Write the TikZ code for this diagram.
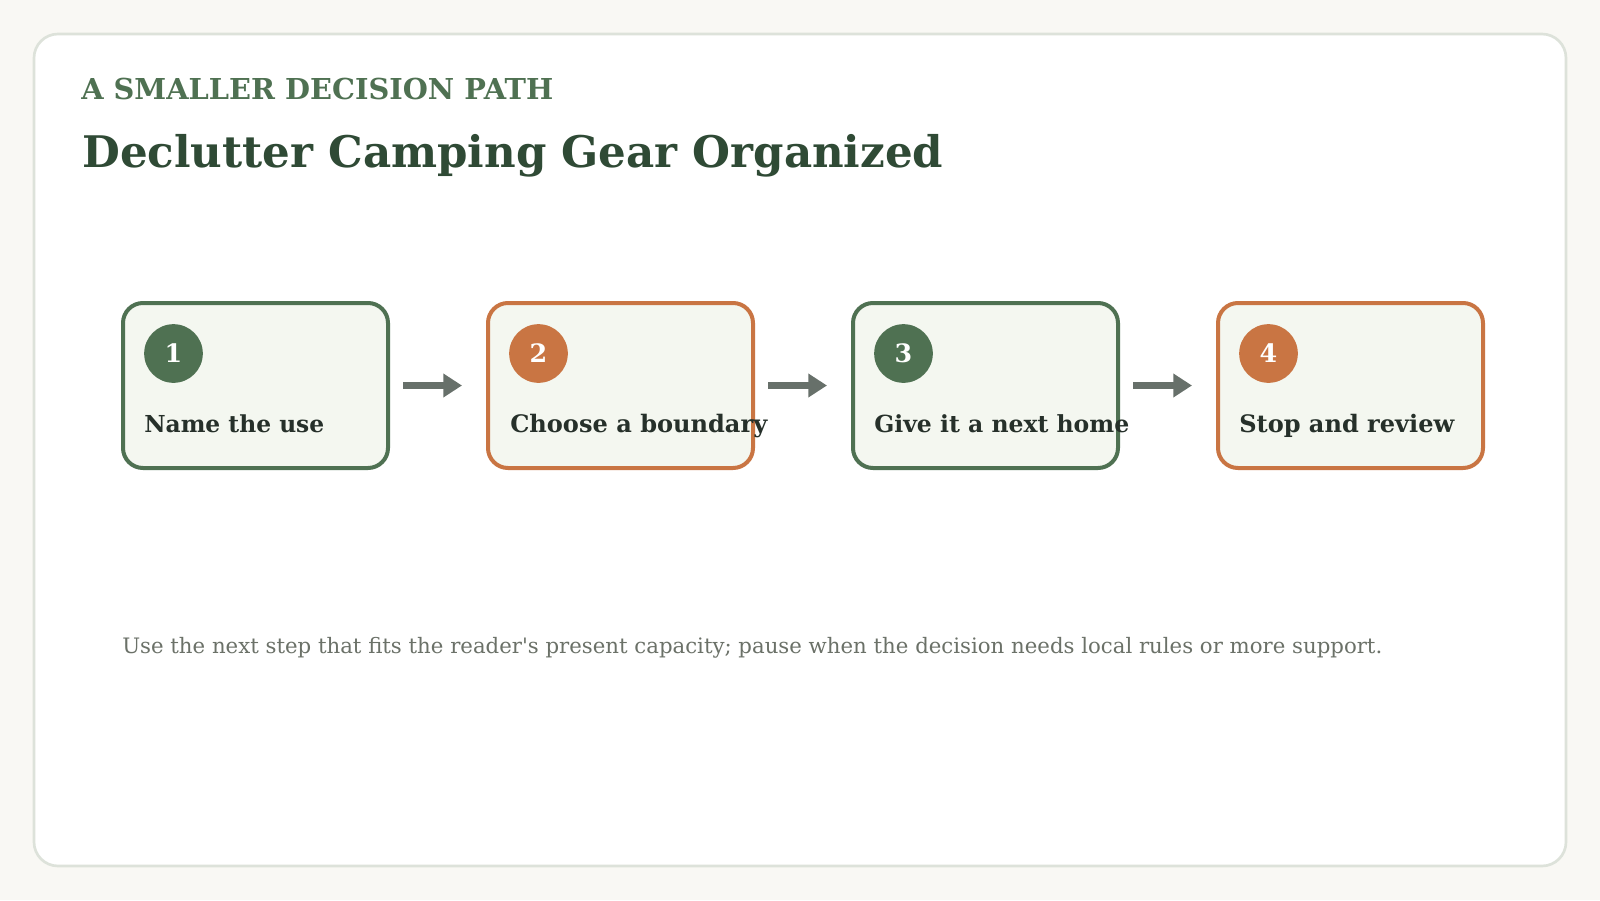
\documentclass[tikz,border=0pt]{standalone}
\usepackage{fontspec}
\usepackage{graphicx}
\setmainfont{DejaVu Serif}
\newfontfamily\footfont{DejaVu Serif}[Ligatures=TeXOff]
\usetikzlibrary{arrows.meta}
\definecolor{pagebg}{HTML}{F9F8F4}
\definecolor{cardline}{HTML}{DDE2DA}
\definecolor{sage}{HTML}{4F7152}
\definecolor{rust}{HTML}{C97543}
\definecolor{boxfill}{HTML}{F4F7F0}
\definecolor{titlecol}{HTML}{2F4A35}
\definecolor{stepcol}{HTML}{26302A}
\definecolor{arrowcol}{HTML}{67706A}
\definecolor{footcol}{HTML}{6B7168}
\newcommand{\fitw}[2]{\resizebox{#1}{!}{#2}}
\tikzset{
  stepbox/.style={draw=#1, fill=boxfill, line width=3pt, rounded corners=15pt,
    minimum width=198.75pt, minimum height=123.75pt, inner sep=0pt, outer sep=0pt},
  badge/.style={circle, fill=#1, minimum size=44pt, inner sep=0pt, text=white,
    font=\fontsize{19}{21}\selectfont\bfseries},
  steplabel/.style={anchor=base west, inner sep=0pt, text=stepcol},
  flow/.style={draw=arrowcol, line width=5.25pt, -{Triangle[length=14pt,width=17pt]}},
}
\begin{document}
\begin{tikzpicture}[x=0.75pt,y=-0.75pt]
\useasboundingbox (0,0) rectangle (1600,900);
\fill[pagebg] (0,0) rectangle (1600,900);
\draw[cardline, fill=white, line width=2pt, rounded corners=18pt] (34,34) rectangle (1566,866);

\node[anchor=base west, inner sep=0pt, text=sage] (sub) at (81,99)
  {\fitw{354pt}{\bfseries A SMALLER DECISION PATH}};
\node[anchor=base west, inner sep=0pt, text=titlecol] (title) at (82,167)
  {\fitw{645.75pt}{\bfseries Declutter Camping Gear Organized}};

\node[stepbox=sage] (b1) at (255.5,385.5) {};
\node[stepbox=rust] (b2) at (620.5,385.5) {};
\node[stepbox=sage] (b3) at (985.5,385.5) {};
\node[stepbox=rust] (b4) at (1350.5,385.5) {};

\node[badge=sage] (c1) at (173.5,353.5) {1};
\node[badge=rust] (c2) at (538.5,353.5) {2};
\node[badge=sage] (c3) at (903.5,353.5) {3};
\node[badge=rust] (c4) at (1268.5,353.5) {4};

\node[steplabel] (t1) at (144,432) {\fitw{135pt}{\bfseries Name the use}};
\node[steplabel] (t2) at (510,432) {\fitw{192.75pt}{\bfseries Choose a boundary}};
\node[steplabel] (t3) at (874,432) {\fitw{191.25pt}{\bfseries Give it a next home}};
\node[steplabel] (t4) at (1239,432) {\fitw{161.25pt}{\bfseries Stop and review}};

\draw[flow] ([xshift=11.25pt]b1.east) -- ([xshift=-19.5pt]b2.west);
\draw[flow] ([xshift=11.25pt]b2.east) -- ([xshift=-19.5pt]b3.west);
\draw[flow] ([xshift=11.25pt]b3.east) -- ([xshift=-19.5pt]b4.west);

\node[anchor=base west, inner sep=0pt, text=footcol] (foot) at (122,653)
  {\fitw{945pt}{\footfont Use the next step that fits the reader's present capacity; pause when the decision needs local rules or more support.}};
\end{tikzpicture}
\end{document}
